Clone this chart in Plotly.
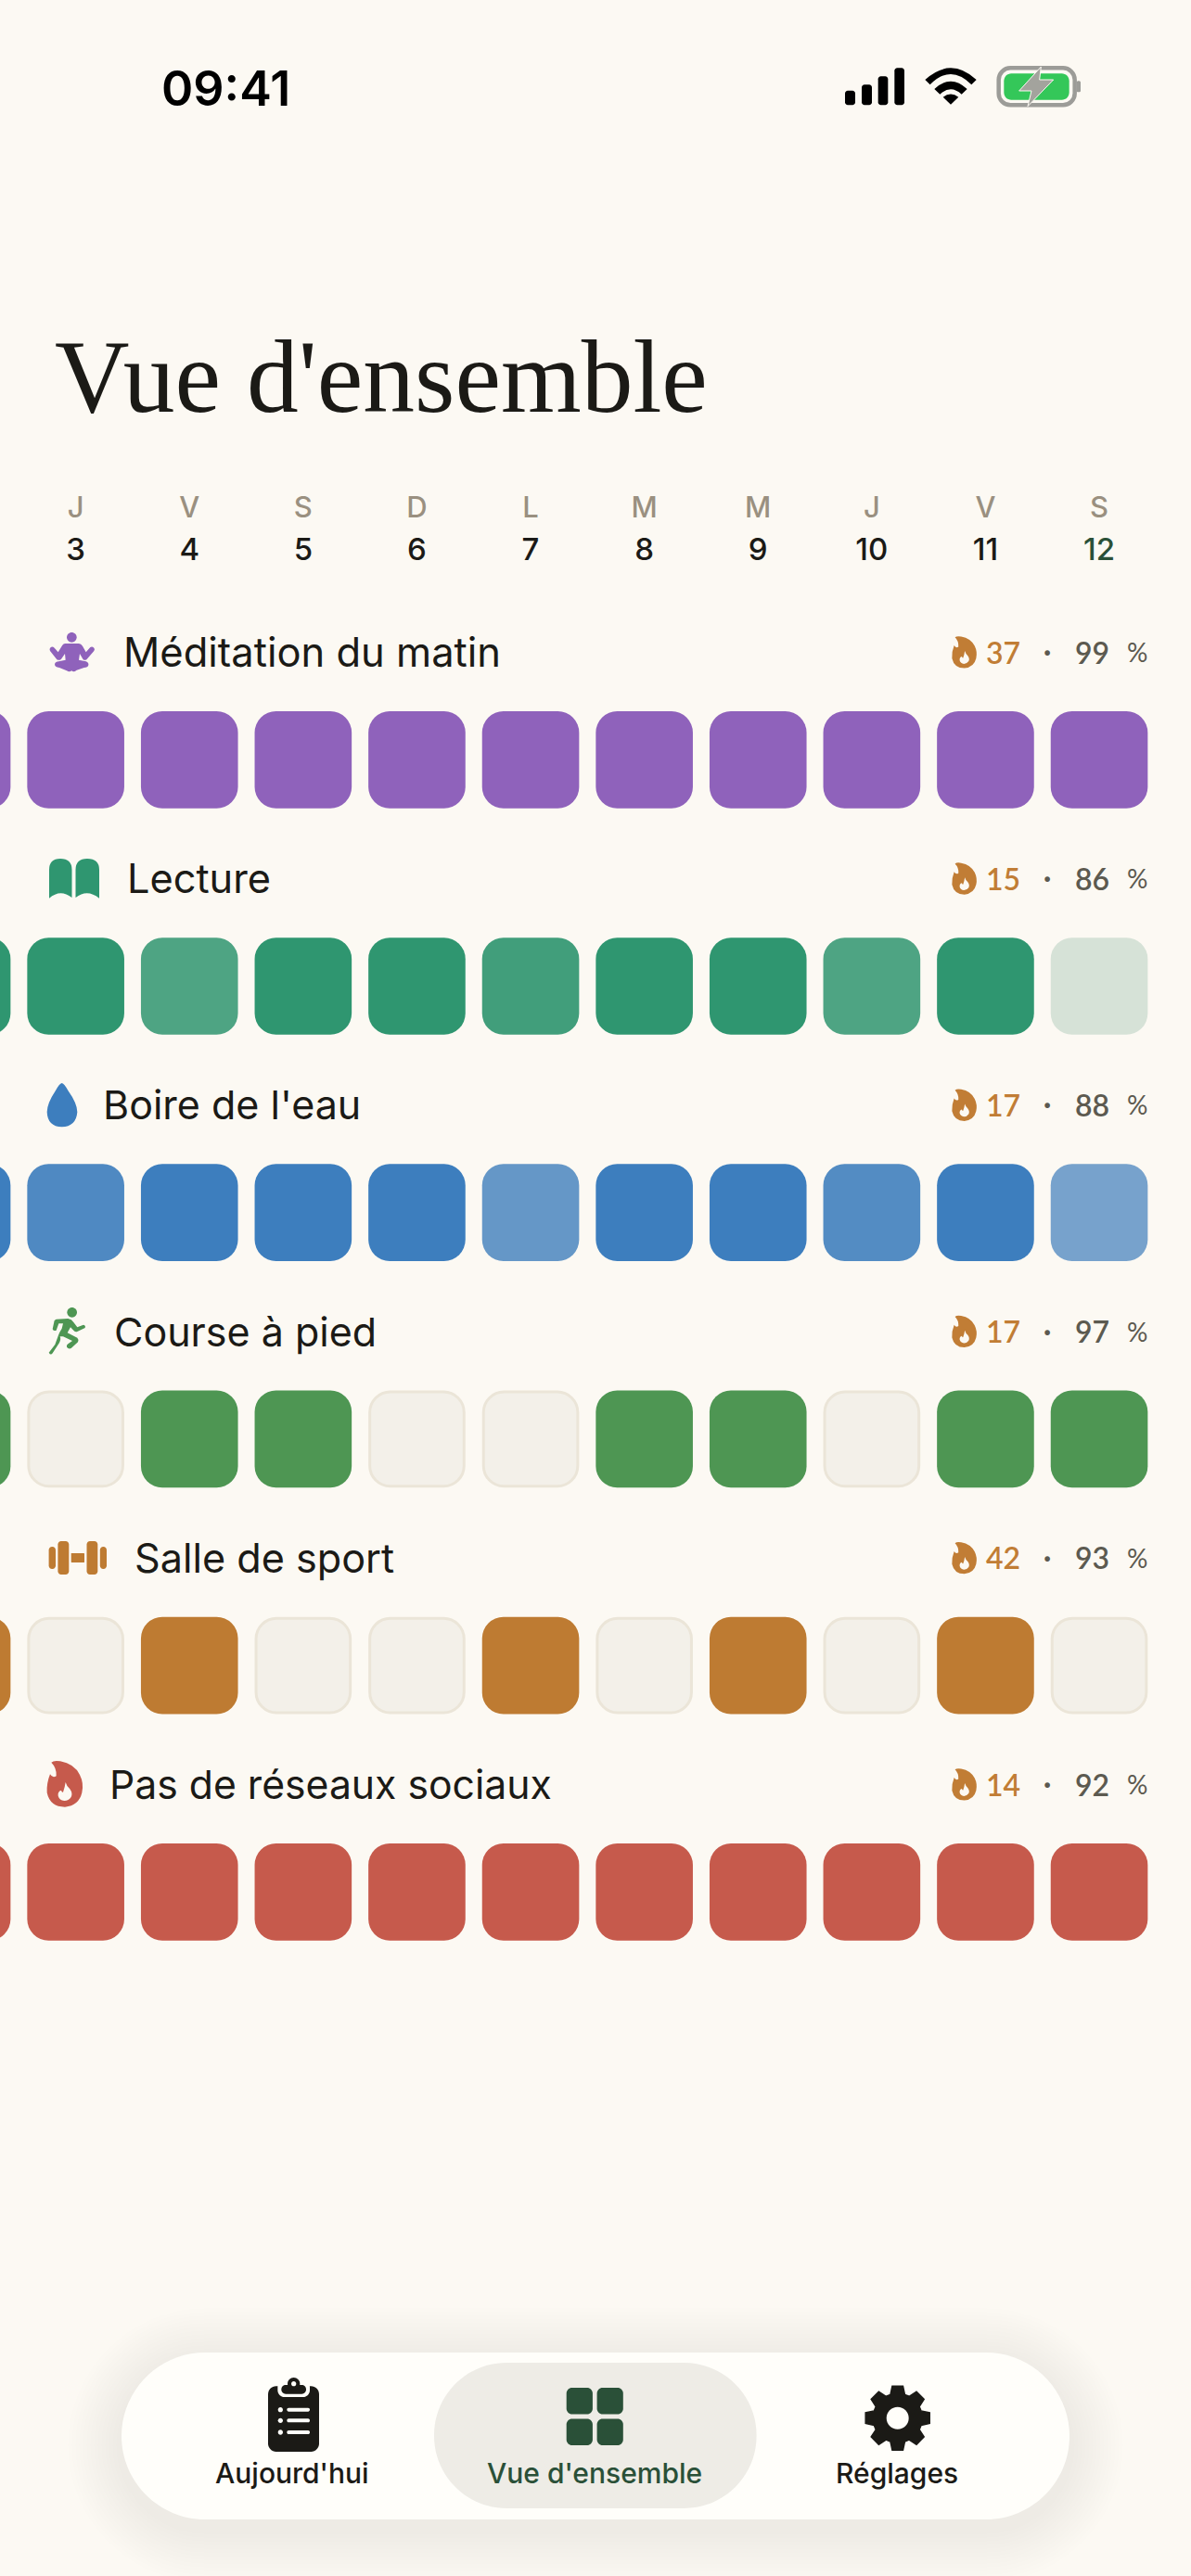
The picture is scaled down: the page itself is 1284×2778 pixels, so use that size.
import re
import math
import plotly.graph_objects as go

# ---------- data ----------
DAY_LETTERS = ["J", "V", "S", "D", "L", "M", "M", "J", "V", "S"]
DAY_NUMBERS = [3, 4, 5, 6, 7, 8, 9, 10, 11, 12]
GRID_DAYS = [2, 3, 4, 5, 6, 7, 8, 9, 10, 11, 12]

HABITS = ["Méditation du matin", "Lecture", "Boire de l'eau", "Course à pied",
          "Salle de sport", "Pas de réseaux sociaux"]
STREAKS = [37, 15, 17, 17, 42, 14]
RATES = [99, 86, 88, 97, 93, 92]

MEDITATION = [1, 1, 1, 1, 1, 1, 1, 1, 1, 1, 1]
LECTURE = [1, 1, .84, 1, 1, .91, 1, 1, .84, 1, .15]
EAU = [1, .9, 1, 1, 1, .78, 1, 1, .88, 1, .68]
COURSE = [1, 0, 1, 1, 0, 0, 1, 1, 0, 1, 1]
SALLE = [1, 0, 1, 0, 0, 1, 0, 1, 0, 1, 0]
RESEAUX = [1, 1, 1, 1, 1, 1, 1, 1, 1, 1, 1]
SERIES = [MEDITATION, LECTURE, EAU, COURSE, SALLE, RESEAUX]

TABS = ["Aujourd'hui", "Vue d'ensemble", "Réglages"]

# ---------- style ----------
BG = "#FCF9F3"
INK = "#1B1A16"
ACCENT = "#2A5038"
STREAK_C = "#C17D35"
COLORS = ["#8F62BB", "#2F9670", "#3D7EBE", "#4E9653", "#BE7B32", "#C65A4C"]
EMPTY_FILL = "#F3F0E9"
EMPTY_LINE = "#EBE5D8"
SANS = "Inter"
ROUND = "Lato"
SERIF = "Liberation Serif"

W, H = 1284, 2778
PITCH_X, PITCH_Y = 122.6, 244.2
C0_X, C0_Y = 81.65, 819.3
CELL_W, CELL_H = 104.6, 104.7
LABEL_X = [132, 136, 110, 121.5, 144, 117]
LABEL_SIZE = [43.5, 43.3, 43, 43, 43.2, 42.7]


def px_y(py):
    return (py - C0_Y) / PITCH_Y


def blend(hex_c, a):
    c = [int(hex_c[i:i + 2], 16) for i in (1, 3, 5)]
    b = [int(EMPTY_FILL[i:i + 2], 16) for i in (1, 3, 5)]
    return "rgb(%d,%d,%d)" % tuple(round(x * a + y * (1 - a)) for x, y in zip(c, b))


fig = go.Figure()

for r, values in enumerate(SERIES):
    done_x = [d for d, v in zip(GRID_DAYS, values) if v > 0]
    done_c = [blend(COLORS[r], v) for v in values if v > 0]
    empty_x = [d for d, v in zip(GRID_DAYS, values) if v == 0]
    fig.add_trace(go.Bar(
        x=done_x, y=[CELL_H / PITCH_Y] * len(done_x),
        base=r - CELL_H / PITCH_Y / 2, width=CELL_W / PITCH_X,
        marker=dict(color=done_c, line_width=0, cornerradius=23), hoverinfo="skip"))
    if empty_x:
        fig.add_trace(go.Bar(
            x=empty_x, y=[(CELL_H - 3) / PITCH_Y] * len(empty_x),
            base=r - (CELL_H - 3) / PITCH_Y / 2, width=(CELL_W - 3) / PITCH_X,
            marker=dict(color=EMPTY_FILL, line=dict(color=EMPTY_LINE, width=3), cornerradius=22),
            hoverinfo="skip"))

fig.add_trace(go.Scatter(
    x=DAY_NUMBERS, y=[px_y(550)] * 10, mode="text", text=DAY_LETTERS,
    textposition="middle center", hoverinfo="skip",
    textfont=dict(family=SANS, size=31, color="#9A9080", weight=500)))
fig.add_trace(go.Scatter(
    x=DAY_NUMBERS, y=[px_y(595.5)] * 10, mode="text", text=[str(n) for n in DAY_NUMBERS],
    textposition="middle center", hoverinfo="skip",
    textfont=dict(family=SANS, size=33, weight=500,
                  color=[INK] * 9 + [ACCENT])))
# keeps the pixel overlay axes alive
fig.add_trace(go.Scatter(x=[0], y=[0], xaxis="x2", yaxis="y2", mode="markers",
                         marker=dict(opacity=0, size=1), hoverinfo="skip"))

shapes, notes = [], []


def xform(path, ox=0, oy=0, s=1.0):
    toks = re.findall(r"[MLQCZ]|-?\d+\.?\d*", path)
    out = []
    is_x = True
    for t in toks:
        if t in "MLQCZ":
            out.append(t)
            is_x = True
        else:
            v = float(t)
            out.append("%.2f" % (ox + v * s if is_x else oy + v * s))
            is_x = not is_x
    return " ".join(out)


def shape(path, color, ox=0, oy=0, s=1.0, line=None, lw=0):
    shapes.append(dict(type="path", xref="x2", yref="y2", path=xform(path, ox, oy, s),
                       fillcolor=color, line=dict(color=line or color, width=lw)))


def rr(x0, y0, x1, y1, r):
    k = r * 0.45
    return (f"M {x0+r} {y0} L {x1-r} {y0} C {x1-k} {y0} {x1} {y0+k} {x1} {y0+r} "
            f"L {x1} {y1-r} C {x1} {y1-k} {x1-k} {y1} {x1-r} {y1} "
            f"L {x0+r} {y1} C {x0+k} {y1} {x0} {y1-k} {x0} {y1-r} "
            f"L {x0} {y0+r} C {x0} {y0+k} {x0+k} {y0} {x0+r} {y0} Z")


def rect(x0, y0, x1, y1, r, color, opacity=None, line=None, lw=0, ox=0, oy=0, s=1.0):
    shape(rr(x0, y0, x1, y1, r), color, ox, oy, s, line, lw)
    if opacity is not None:
        shapes[-1]["opacity"] = opacity


def circle(cx, cy, r, color, ox=0, oy=0, s=1.0):
    shape(rr(cx - r, cy - r, cx + r, cy + r, r), color, ox, oy, s)


def txt(x, y, text, size, color, family=SANS, weight=400, anchor="left"):
    notes.append(dict(xref="x2", yref="y2", x=x, y=y, text=text, showarrow=False,
                      xanchor=anchor, yanchor="middle", borderpad=0,
                      font=dict(family=family, size=size, color=color, weight=weight)))


FLAME = ("M 46 32 Q 54 24 75 28 Q 120 36 138 72 Q 152 100 145 130 Q 135 172 90 176 "
         "Q 42 176 32 130 Q 30 100 42 70 Q 50 84 62 76 Q 64 50 46 32 Z")
FLAME_IN = ("M 92 96 Q 96 110 106 118 Q 116 132 110 144 Q 102 156 88 156 "
            "Q 72 154 68 140 Q 66 126 78 122 Q 80 130 84 128 Q 90 112 92 96 Z")

# status bar
txt(173, 95, "09:41", 52, "#000000", SANS, 600)
for x0, y0, x1 in [(33, 113, 66), (87, 94, 120), (140, 67, 172), (193, 40, 225)]:
    rect(x0, y0, x1, 160, 9, "#000000", ox=900, oy=60, s=1 / 3)
for p in ["M 292 78 Q 375 2 458 78 L 442 94 Q 375 26 308 94 Z",
          "M 322 108 Q 375 58 428 108 L 410 125 Q 375 92 340 125 Z",
          "M 375 158 L 350 134 Q 375 115 400 134 Z"]:
    shape(p, "#000000", 900, 60, 1 / 3)
rect(530, 40, 776, 160, 38, BG, line="#9C9C98", lw=4.5, ox=900, oy=60, s=1 / 3)
rect(547, 58, 758, 143, 24, "#34C759", ox=900, oy=60, s=1 / 3)
shape("M 667 36 L 596 114 L 636 114 L 624 164 L 707 78 L 662 78 Z", "#A3A39D",
      900, 60, 1 / 3, BG, 1)
rect(782, 82, 795, 118, 5, "#9C9C98", ox=900, oy=60, s=1 / 3)

# title
txt(58, 406, "Vue d'ensemble", 111.5, INK, SERIF, 400)

# habit rows
for r, name in enumerate(HABITS):
    cy = 703 + r * PITCH_Y
    txt(LABEL_X[r], cy, name, LABEL_SIZE[r], INK, SANS, 400)
    dy = r * PITCH_Y
    shape(FLAME, STREAK_C, 1019, 680 + dy, .23)
    shape(FLAME_IN, BG, 1019, 680 + dy, .23)
    txt(1101, cy, str(STREAKS[r]), 32, STREAK_C, ROUND, 600, "right")
    txt(1129, cy - 2, "·", 30, "#5C5A50", ROUND, 700, "center")
    txt(1197, cy, str(RATES[r]), 32, "#5C5A50", ROUND, 600, "right")
    txt(1237.5, cy, "%", 28, "#5C5A50", ROUND, 400, "right")

# habit icons
circle(112, 52, 16, COLORS[0], 40, 670, 1 / 3)
shape("M 90 72 L 135 72 Q 142 72 147 80 L 158 100 L 172 84 Q 178 80 184 86 Q 188 90 184 96 "
      "L 160 124 Q 153 128 148 122 L 138 105 L 135 125 L 158 130 Q 168 134 166 142 "
      "Q 164 150 152 150 L 128 158 Q 118 166 112 160 Q 104 166 96 160 L 72 150 Q 56 148 57 138 "
      "Q 60 130 70 130 L 92 125 L 90 105 L 78 122 Q 72 128 64 124 L 42 96 Q 38 90 44 84 "
      "Q 50 80 56 86 L 68 100 L 80 80 Q 84 72 90 72 Z", COLORS[0], 40, 670, 1 / 3)
shape("M 53 938 Q 53 926 65 926 Q 77.5 926 77.5 938 L 77.5 968 Q 65 958 53 968.7 Z", COLORS[1])
shape("M 81.5 938 Q 81.5 926 94 926 Q 107 926 107 938 L 107 968.7 Q 94 958 81.5 968 Z", COLORS[1])
shape("M 80 24 Q 88 26 100 48 Q 130 90 130 118 Q 126 165 80 166 Q 34 165 32 118 "
      "Q 32 90 60 48 Q 72 26 80 24 Z", COLORS[2], 40, 1160, 1 / 3)
circle(113, 46, 16, COLORS[3], 40, 1400, 1 / 3)
shape("M 62 68 L 100 66 Q 112 68 118 78 L 130 94 L 150 86 Q 158 88 155 96 L 130 108 "
      "Q 124 110 118 104 L 108 94 L 98 112 L 130 128 Q 136 134 132 142 L 110 162 "
      "Q 102 166 96 158 Q 94 152 100 148 L 114 138 L 84 124 L 74 124 Q 78 132 72 144 "
      "L 50 178 Q 44 186 38 176 L 58 150 L 68 122 Q 72 110 80 98 L 84 82 L 70 82 "
      "L 62 104 Q 52 108 50 100 L 56 72 Z", COLORS[3], 40, 1400, 1 / 3)
for x0, y0, x1, y1 in [(52.6, 1668, 60, 1692), (62.4, 1662, 74.3, 1698), (93.5, 1662, 105.3, 1698),
                       (107.8, 1668, 115, 1692)]:
    rect(x0, y0, x1, y1, 3.5, COLORS[4])
rect(76.7, 1675, 91, 1685, 0.5, COLORS[4])
shape(FLAME, COLORS[5], 40, 1890, 1 / 3)
shape(FLAME_IN, BG, 40, 1890, 1 / 3)

# tab bar
for i in range(14):
    g = 58 - i * 4
    rect(131 - g, 2537 - g + 10, 1153 + g, 2717 + g + 10, 90 + g, "#7A6E58", opacity=0.005)
BAR = "#FFFEFA"
rect(131, 2537, 1153, 2717, 90, BAR)
rect(468, 2548, 815.6, 2705, 78, "#EEECE6")
# clipboard
rect(57, 70, 222, 282, 26, INK, ox=270, oy=2550, s=1 / 3)
rect(88, 50, 192, 105, 22, BAR, ox=270, oy=2550, s=1 / 3)
rect(100, 66, 180, 95, 14, INK, ox=270, oy=2550, s=1 / 3)
circle(140, 62, 20, INK, 270, 2550, 1 / 3)
circle(140, 62, 8, BAR, 270, 2550, 1 / 3)
for cy in (146, 181, 219):
    circle(97, cy, 8, BAR, 270, 2550, 1 / 3)
    rect(118, cy - 6, 192, cy + 6, 5.5, BAR, ox=270, oy=2550, s=1 / 3)
# grid
for x0 in (610.7, 643.6):
    for y0 in (2575, 2608.5):
        rect(x0, y0, x0 + 28.2, y0 + 28.5, 6, ACCENT)
# gear
cx, cy, pts = 967.7, 2607.7, []
for t in range(8):
    a = math.radians(t * 45 - 90)
    for da, rad in [(-17, 26.5), (-9.5, 35), (9.5, 35), (17, 26.5)]:
        b = a + math.radians(da)
        pts.append((cx + rad * math.cos(b), cy + rad * math.sin(b)))
shape("M " + " L ".join(f"{x:.2f} {y:.2f}" for x, y in pts) + " Z", INK, line=INK, lw=1.5)
circle(cx, cy, 12, BAR)

for label, x, c in zip(TABS, [315, 640.6, 967], [INK, ACCENT, INK]):
    txt(x, 2667, label, 30, c, SANS, 500, "center")

fig.update_layout(
    width=W, height=H, margin=dict(l=0, r=0, t=0, b=0),
    paper_bgcolor=BG, plot_bgcolor="rgba(0,0,0,0)",
    showlegend=False, barmode="overlay", hovermode=False,
    xaxis=dict(range=[3 - C0_X / PITCH_X, 3 + (W - C0_X) / PITCH_X], visible=False, fixedrange=True),
    yaxis=dict(range=[(H - C0_Y) / PITCH_Y, -C0_Y / PITCH_Y], visible=False, fixedrange=True),
    xaxis2=dict(range=[0, W], overlaying="x", visible=False, fixedrange=True),
    yaxis2=dict(range=[H, 0], overlaying="y", visible=False, fixedrange=True),
    shapes=shapes, annotations=notes,
)
fig.write_html("out.html", config=dict(displayModeBar=False),
               post_script="document.body.style.margin='0';document.body.style.background='%s';" % BG)
